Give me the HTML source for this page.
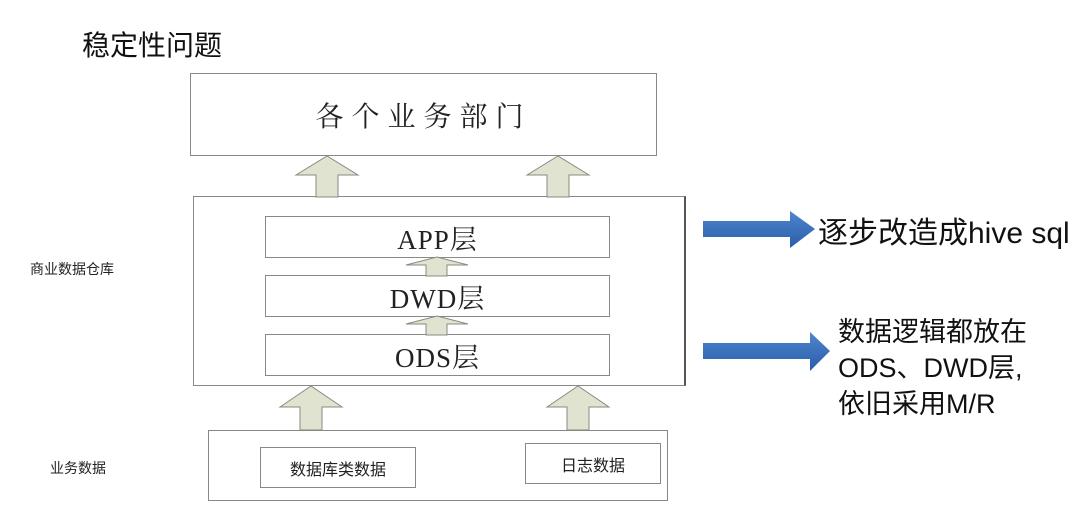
<!DOCTYPE html>
<html><head><meta charset="utf-8"><style>
body{margin:0;width:1080px;height:531px;background:#fff;position:relative;overflow:hidden;font-family:"Liberation Sans","Noto Sans CJK SC",sans-serif}
.a{position:absolute}
.box{position:absolute;border:1.5px solid #888;box-sizing:border-box;background:#fff;display:flex;align-items:center;justify-content:center;font-family:"Liberation Serif","Noto Serif CJK SC",serif;color:#222}
</style></head><body>
<div class="a" style="left:82px;top:24px;font-size:28px;color:#111">稳定性问题</div>
<div class="box" style="left:190px;top:73px;width:467px;height:83px;font-size:28px;letter-spacing:8px">各个业务部门</div>
<div class="box" style="left:193px;top:196px;width:493px;height:190px;border-right:2px solid #555"></div>
<div class="box" style="left:265px;top:216px;width:345px;height:42px;font-size:27px;letter-spacing:1px">APP层</div>
<div class="box" style="left:265px;top:275px;width:345px;height:42px;font-size:27px;letter-spacing:1px">DWD层</div>
<div class="box" style="left:265px;top:334px;width:345px;height:42px;font-size:27px;letter-spacing:1px">ODS层</div>
<div class="box" style="left:208px;top:430px;width:460px;height:71px"></div>
<div class="box" style="left:260px;top:447px;width:156px;height:41px;font-size:16px;font-family:'Noto Sans CJK SC',sans-serif">数据库类数据</div>
<div class="box" style="left:525px;top:443px;width:136px;height:41px;font-size:16px;font-family:'Noto Sans CJK SC',sans-serif">日志数据</div>
<div class="a" style="left:30px;top:259px;font-size:14px;color:#222">商业数据仓库</div>
<div class="a" style="left:50px;top:458px;font-size:14px;color:#222">业务数据</div>
<svg class="a" style="left:0;top:0" width="1080" height="531">
<defs><linearGradient id="b" x1="0" y1="0" x2="0" y2="1"><stop offset="0" stop-color="#4f86cf"/><stop offset="1" stop-color="#2a5da8"/></linearGradient></defs>
<g fill="#dfe3cf" stroke="#8a8a80" stroke-width="1">
<polygon points="296,175 327,156 358,175 338,175 338,197 316,197 316,175"/>
<polygon points="527,175 558,156 589,175 569,175 569,197 547,197 547,175"/>
<polygon points="406,265 437,257 468,265 447,265 447,276 426,276 426,265"/>
<polygon points="406,324 437,316 468,324 447,324 447,335 426,335 426,324"/>
<polygon points="280,407 311,386 342,407 322,407 322,430 300,430 300,407"/>
<polygon points="547,407 578,386 609,407 589,407 589,430 567,430 567,407"/>
</g>
<polygon fill="url(#b)" points="703,221 790,221 790,211 815,229 790,248 790,237 703,237"/>
<polygon fill="url(#b)" points="703,343 810,343 810,332 830,351 810,371 810,359 703,359"/>
</svg>
<div class="a" style="left:818px;top:208px;font-size:30px;color:#111;white-space:nowrap">逐步改造成hive sql</div>
<div class="a" style="left:838px;top:314px;font-size:27px;line-height:36px;color:#111;white-space:nowrap">数据逻辑都放在<br>ODS、DWD层,<br>依旧采用M/R</div>
</body></html>
